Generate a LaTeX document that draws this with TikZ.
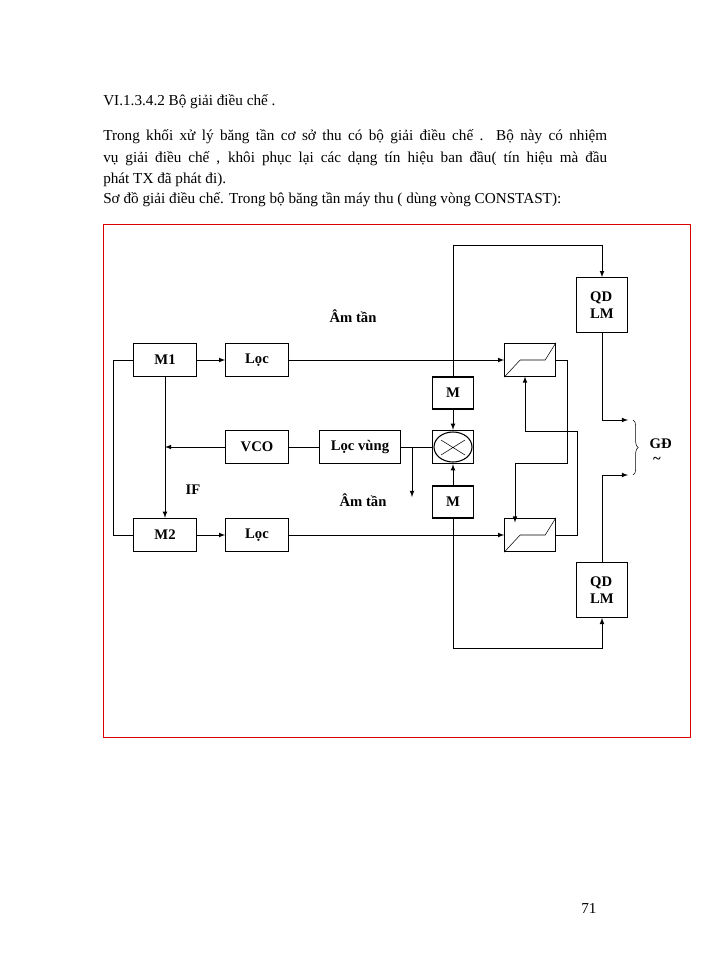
\documentclass[tikz,border=0pt]{standalone}
\usepackage{fontspec}
\setmainfont{Liberation Serif}
\usetikzlibrary{decorations.pathreplacing}
\begin{document}
\begin{tikzpicture}[x=0.75pt,y=-0.75pt,
 box/.style={draw,thick,minimum width=47pt,minimum height=25pt,inner sep=0pt,font=\bfseries\fontsize{11}{13}\selectfont},
 ln/.style={draw,semithick},
 arr/.style={ln,-latex},
 lab/.style={font=\bfseries\fontsize{11}{13}\selectfont},
 txt/.style={anchor=base west,inner sep=0pt,font=\fontsize{11.4}{13}\selectfont}]
\useasboundingbox (0,0) rectangle (700,960);
% texts
\node[txt] (h) at (103,105) {VI.1.3.4.2 Bộ giải điều chế .};
\node[txt] (p1) at (103,140) {\makebox[378pt][s]{Trong  khối xử lý băng tần cơ sở thu có bộ giải điều chế . Bộ này có nhiệm}};
\node[txt] (p2) at (103,162) {\makebox[378pt][s]{vụ giải điều chế , khôi phục lại các dạng tín hiệu ban đầu( tín hiệu mà đầu}};
\node[txt] (p3) at (103,183) {phát TX đã phát đi).};
\node[txt] (p4) at (103,203) {Sơ đồ giải điều chế. Trong bộ băng tần máy thu ( dùng vòng CONSTAST):};
\node[txt] (pg) at (581,913) {71};
% frame
\draw[red!80!black!70!red] (103,224) rectangle (690,737);
% boxes
\node[box] (m1) at (165,360) {M1};
\node[box] (l1) at (257,360) {Lọc};
\node[box] (vco) at (257,447) {VCO};
\node[box,minimum width=61pt] (lv) at (360,447) {Lọc vùng};
\node[box] (m2) at (165,535) {M2};
\node[box] (l2) at (257,535) {Lọc};
\node[box,minimum width=31pt,minimum height=24pt] (mu) at (453,393) {M};
\node[box,minimum width=31pt,minimum height=24pt] (md) at (453,502) {M};
\node[box,minimum width=31pt,minimum height=25pt] (x) at (453,447) {};
\draw[thick] (x) ellipse (19 and 15);
\draw (441,440) -- (465,455) (441,455) -- (465,440);
\node[box,minimum width=38pt,minimum height=25pt] (f1) at (530,360) {};
\node[box,minimum width=38pt,minimum height=25pt] (f2) at (530,535) {};
\foreach \f in {f1,f2}{\draw (\f.south west) -- ([xshift=12pt]\f.west) -- ([xshift=-8pt]\f.east) -- (\f.north east);}
\node[box,minimum width=38pt,minimum height=41pt,align=left] (q1) at (602,305) {QD\\LM};
\node[box,minimum width=38pt,minimum height=41pt,align=left] (q2) at (602,590) {QD\\LM};
% labels
\node[lab] (a1) at (353,316) {Âm tần};
\node[lab] (a2) at (363,500) {Âm tần};
\node[lab] (if) at (193,490) {IF};
\node[lab,anchor=west] (gd) at (645,444) {GĐ};
\node[lab] (tl) at (657,460) {\textasciitilde};
% connectors
\draw[arr] (m1) -- (l1);
\draw[arr] (m2) -- (l2);
\draw[ln] (m1.west) -- (113,360) -- (113,535) -- (m2.west);
\draw[arr] (m1.south) -- (m2.north);
\draw[arr] (vco.west) -- (165,447);
\draw[ln] (vco) -- (lv);
\draw[ln] (lv) -- (x);
\draw[arr] (412,447) -- (412,497);
\draw[arr] (l1.east) -- (f1.west);
\draw[arr] (l2.east) -- (f2.west);
\draw[arr] (mu) -- (x);
\draw[arr] (md) -- (x);
\draw[arr] (mu.north) -- (453,245) -- (602,245) -- (q1.north);
\draw[arr] (md.south) -- (453,648) -- (602,648) -- (q2.south);
\draw[arr] (f1.east) -- (567,360) -- (567,463) -- (515,463) -- (515,522.5);
\draw[arr] (f2.east) -- (577,535) -- (577,431) -- (525,431) -- (525,376.5);
\draw[arr] (q1.south) -- (602,420) -- (628,420);
\draw[arr] (q2.north) -- (602,475) -- (628,475);
\draw[decorate,decoration={brace,amplitude=4pt}] (633,420) -- (633,475);
\end{tikzpicture}
\end{document}
